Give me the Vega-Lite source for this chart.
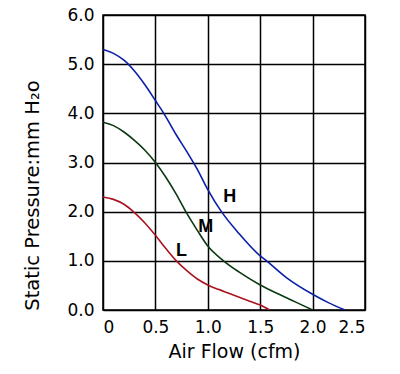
{
  "$schema": "https://vega.github.io/schema/vega-lite/v6.json",
  "width": 262,
  "height": 295,
  "autosize": "none",
  "padding": {"left": 103, "top": 15, "right": 35, "bottom": 64},
  "background": "white",
  "config": {"view": {"stroke": "black", "strokeWidth": 1.5}, "font": "DejaVu Sans"},
  "datasets": {
    "curves": [
      {"s": "H", "x": 0, "y": 5.3}, {"s": "H", "x": 0.1, "y": 5.22}, {"s": "H", "x": 0.2, "y": 5.08}, {"s": "H", "x": 0.3, "y": 4.86}, {"s": "H", "x": 0.4, "y": 4.58}, {"s": "H", "x": 0.5, "y": 4.26}, {"s": "H", "x": 0.58, "y": 4.0}, {"s": "H", "x": 0.7, "y": 3.56}, {"s": "H", "x": 0.8, "y": 3.22}, {"s": "H", "x": 0.9, "y": 2.86}, {"s": "H", "x": 1.0, "y": 2.45}, {"s": "H", "x": 1.13, "y": 2.0}, {"s": "H", "x": 1.3, "y": 1.55}, {"s": "H", "x": 1.5, "y": 1.1}, {"s": "H", "x": 1.56, "y": 1.0}, {"s": "H", "x": 1.75, "y": 0.66}, {"s": "H", "x": 2.0, "y": 0.32}, {"s": "H", "x": 2.15, "y": 0.15}, {"s": "H", "x": 2.31, "y": 0.0},
      {"s": "M", "x": 0, "y": 3.82}, {"s": "M", "x": 0.1, "y": 3.75}, {"s": "M", "x": 0.2, "y": 3.62}, {"s": "M", "x": 0.3, "y": 3.45}, {"s": "M", "x": 0.4, "y": 3.25}, {"s": "M", "x": 0.5, "y": 3.0}, {"s": "M", "x": 0.6, "y": 2.7}, {"s": "M", "x": 0.7, "y": 2.35}, {"s": "M", "x": 0.79, "y": 2.0}, {"s": "M", "x": 0.9, "y": 1.62}, {"s": "M", "x": 1.0, "y": 1.3}, {"s": "M", "x": 1.15, "y": 1.0}, {"s": "M", "x": 1.3, "y": 0.77}, {"s": "M", "x": 1.5, "y": 0.51}, {"s": "M", "x": 1.7, "y": 0.3}, {"s": "M", "x": 1.85, "y": 0.15}, {"s": "M", "x": 2.0, "y": 0.0},
      {"s": "L", "x": 0, "y": 2.3}, {"s": "L", "x": 0.1, "y": 2.25}, {"s": "L", "x": 0.2, "y": 2.15}, {"s": "L", "x": 0.3, "y": 1.98}, {"s": "L", "x": 0.4, "y": 1.77}, {"s": "L", "x": 0.5, "y": 1.52}, {"s": "L", "x": 0.6, "y": 1.25}, {"s": "L", "x": 0.7, "y": 1.0}, {"s": "L", "x": 0.8, "y": 0.8}, {"s": "L", "x": 0.9, "y": 0.63}, {"s": "L", "x": 1.0, "y": 0.51}, {"s": "L", "x": 1.1, "y": 0.42}, {"s": "L", "x": 1.2, "y": 0.34}, {"s": "L", "x": 1.3, "y": 0.26}, {"s": "L", "x": 1.4, "y": 0.18}, {"s": "L", "x": 1.5, "y": 0.1}, {"s": "L", "x": 1.59, "y": 0.0}
    ],
    "labels": [
      {"t": "H", "x": 1.21, "y": 2.3},
      {"t": "M", "x": 0.98, "y": 1.69},
      {"t": "L", "x": 0.75, "y": 1.2}
    ]
  },
  "layer": [
    {
      "data": {"name": "curves"},
      "mark": {"type": "line", "interpolate": "monotone", "strokeWidth": 1.6, "clip": true},
      "encoding": {
        "x": {"field": "x", "type": "quantitative", "scale": {"domain": [0, 2.5], "nice": false},
          "axis": {"values": [0, 0.5, 1, 1.5, 2, 2.5], "labelExpr": "datum.value == 0 ? '0' : format(datum.value, '.1f')", "title": "Air Flow (cfm)", "grid": true, "gridColor": "black", "gridOpacity": 1, "gridWidth": 1.5, "domain": false, "ticks": false, "labelFontSize": 17, "labelColor": "black", "labelPadding": 9, "titleFontSize": 19, "titleFontWeight": "normal", "titleColor": "black", "titlePadding": 7}},
        "y": {"field": "y", "type": "quantitative", "scale": {"domain": [0, 6], "nice": false},
          "axis": {"values": [0, 1, 2, 3, 4, 5, 6], "format": ".1f", "title": "Static Pressure:mm H₂o", "grid": true, "gridColor": "black", "gridOpacity": 1, "gridWidth": 1.5, "domain": false, "ticks": false, "labelFontSize": 17, "labelColor": "black", "labelPadding": 9, "titleFontSize": 19.5, "titleFontWeight": "normal", "titleColor": "black", "titleX": -65, "titleY": 180, "titleBaseline": "alphabetic", "titleAlign": "center", "titleAngle": 270}},
        "color": {"field": "s", "type": "nominal", "scale": {"domain": ["H", "M", "L"], "range": ["#0a1fa8", "#0b3a12", "#a81420"]}, "legend": null},
        "detail": {"field": "s"}
      }
    },
    {
      "data": {"name": "labels"},
      "mark": {"type": "text", "fontSize": 18, "fontWeight": "bold", "font": "Liberation Sans", "color": "black"},
      "encoding": {
        "x": {"field": "x", "type": "quantitative"},
        "y": {"field": "y", "type": "quantitative"},
        "text": {"field": "t"}
      }
    }
  ]
}
